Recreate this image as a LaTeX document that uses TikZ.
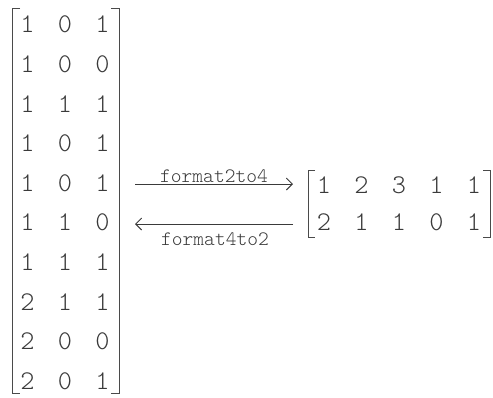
\documentclass[tikz,border=0pt]{standalone}
\usepackage{fontspec}
\usetikzlibrary{arrows.meta}
\definecolor{ink}{HTML}{3A3A3A}
\definecolor{brk}{HTML}{4A4A4A}
\newcommand{\thinmono}{\ttfamily\fontseries{l}\selectfont}
\tikzset{
  entry/.style={font=\fontsize{27}{27}\selectfont\thinmono, text=ink, inner sep=0pt, anchor=center},
  oplabel/.style={font=\fontsize{20.5}{20.5}\selectfont\thinmono, text=ink, inner sep=0pt},
  bracket/.style={draw=brk, line width=0.9pt},
  conv/.style={draw=ink, line width=0.9pt, -{Straight Barb[length=6pt,width=12pt]}},
}
\begin{document}
\begin{tikzpicture}[x=1pt,y=-1pt]
  \useasboundingbox (0,0) rectangle (493,397);

  % left matrix (10 x 3)
  \def\rowsA{{1,0,1},{1,0,0},{1,1,1},{1,0,1},{1,0,1},{1,1,0},{1,1,1},{2,1,1},{2,0,0},{2,0,1}}
  \foreach \r [count=\i from 0] in \rowsA {
    \foreach \v [count=\j from 0] in \r {
      \node[entry] (A-\i-\j) at ({27.5+37.5*\j},{24.5+39.6*\i}) {\v};
    }
  }
  \draw[bracket] (20,8) -- (12,8) -- (12,393) -- (20,393);
  \draw[bracket] (111,8) -- (119,8) -- (119,393) -- (111,393);

  % right matrix (2 x 5)
  \foreach \r [count=\i from 0] in {{1,2,3,1,1},{2,1,1,0,1}} {
    \foreach \v [count=\j from 0] in \r {
      \node[entry] (B-\i-\j) at ({324+37.5*\j},{185+37*\i}) {\v};
    }
  }
  \draw[bracket] (315,170) -- (308,170) -- (308,237) -- (315,237);
  \draw[bracket] (483,170) -- (490,170) -- (490,237) -- (483,237);

  % conversion arrows
  \coordinate (fwd-start) at (135,184);
  \coordinate (fwd-end)   at (293,184);
  \coordinate (bwd-start) at (293,224);
  \coordinate (bwd-end)   at (135,224);
  \draw[conv] (fwd-start) -- (fwd-end);
  \draw[conv] (bwd-start) -- (bwd-end);
  \node[oplabel, anchor=base] (lbl-fwd) at (214,182) {format2to4};
  \node[oplabel, anchor=base] (lbl-bwd) at (215,245) {format4to2};
\end{tikzpicture}
\end{document}
